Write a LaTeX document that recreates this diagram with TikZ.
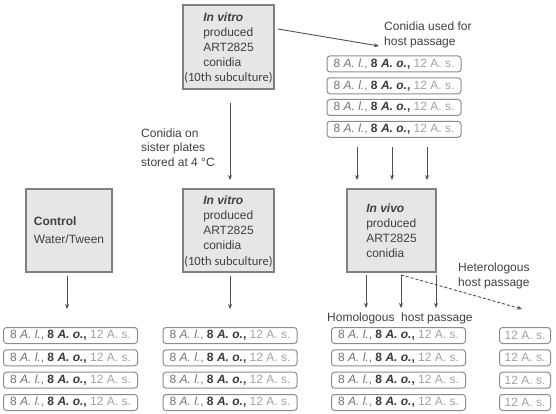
\documentclass[tikz,border=0pt]{standalone}
\usepackage{fontspec}
\setmainfont{Liberation Sans}
\newfontfamily\subfont{Carlito}
\usetikzlibrary{arrows.meta}

\definecolor{boxfill}{HTML}{E6E6E6}
\definecolor{boxline}{HTML}{808080}
\definecolor{txtdark}{HTML}{404040}
\definecolor{arrowgray}{HTML}{505050}
\definecolor{rowline}{HTML}{8C8C8C}
\definecolor{rowmid}{HTML}{737373}
\definecolor{rowdark}{HTML}{3A3A3A}
\definecolor{rowlight}{HTML}{A3A3A3}

\newcommand{\mixtxt}{{\color{rowmid}8 \textit{A. l.},} {\color{rowdark}\textbf{8 \textit{A. o.},}} {\color{rowlight}12 A. s.}}
\newcommand{\astxt}{{\color{rowlight}12 A. s.}}
\newcommand{\subcult}{{\subfont\fontsize{12.6}{14}\selectfont (10th subculture)}}

\tikzset{
  mainbox/.style={draw=boxline, line width=1.8pt, fill=boxfill, text=txtdark,
    minimum width=91pt, minimum height=83pt, inner sep=0pt, align=center,
    font=\fontsize{12}{15}\selectfont},
  rowbox/.style={draw=rowline, line width=1pt, rounded corners=3pt, fill=white,
    minimum width=134pt, minimum height=16pt, inner sep=0pt,
    font=\fontsize{12}{14}\selectfont},
  shortbox/.style={rowbox, minimum width=51pt},
  arr/.style={draw=arrowgray, line width=0.9pt, -{Stealth[length=5pt,width=4pt]}},
  lbl/.style={text=txtdark, align=left, inner sep=0pt, font=\fontsize{12}{15}\selectfont}
}

\begin{document}
\begin{tikzpicture}[x=1pt,y=-1pt]
  \useasboundingbox[fill=white] (0,0) rectangle (556,414);

  \node[mainbox, minimum height=84pt] (topvitro) at (228.5,47)
    {\begin{tabular}{@{}l@{}}\textbf{\textit{In vitro}}\\produced\\ART2825\\conidia\end{tabular}\\[1pt]\subcult};
  \node[mainbox, minimum width=86pt, align=left] (control) at (69,230.5)
    {\textbf{Control}\\[3pt]Water/Tween};
  \node[mainbox] (midvitro) at (228.5,230.5)
    {\begin{tabular}{@{}l@{}}\textbf{\textit{In vitro}}\\produced\\ART2825\\conidia\end{tabular}\\[1pt]\subcult};
  \node[mainbox, minimum width=89pt, align=left] (vivo) at (391.5,230.5)
    {\textbf{\textit{In vivo}}\\produced\\ART2825\\conidia};

  \node[lbl, anchor=west] (usedlbl) at (384,34.5) {Conidia used for\\host passage};
  \coordinate (usedtip) at (379,46);
  \node[lbl, anchor=west, font=\fontsize{12}{14.5}\selectfont] (sisterlbl) at (141,147.5)
    {Conidia on\\sister plates\\stored at 4 °C};
  \node[lbl, anchor=west] (heterolbl) at (458,275.5) {Heterologous\\host passage};
  \node[lbl, anchor=west] (homolbl) at (327,318) {Homologous\ \ host passage};

  \node[rowbox] (pass1) at (394,64) {\mixtxt};
  \node[rowbox] (pass2) at (394,85.8) {\mixtxt};
  \node[rowbox] (pass3) at (394,107.5) {\mixtxt};
  \node[rowbox] (pass4) at (394,129.3) {\mixtxt};

  \node[rowbox] (ctrl1) at (70.5,335.5) {\mixtxt};
  \node[rowbox] (ctrl2) at (70.5,357.8) {\mixtxt};
  \node[rowbox] (ctrl3) at (70.5,380.2) {\mixtxt};
  \node[rowbox] (ctrl4) at (70.5,402.5) {\mixtxt};

  \node[rowbox] (vitro1) at (230,335.5) {\mixtxt};
  \node[rowbox] (vitro2) at (230,357.8) {\mixtxt};
  \node[rowbox] (vitro3) at (230,380.2) {\mixtxt};
  \node[rowbox] (vitro4) at (230,402.5) {\mixtxt};

  \node[rowbox] (homo1) at (398.5,335.5) {\mixtxt};
  \node[rowbox] (homo2) at (398.5,357.8) {\mixtxt};
  \node[rowbox] (homo3) at (398.5,380.2) {\mixtxt};
  \node[rowbox] (homo4) at (398.5,402.5) {\mixtxt};

  \node[shortbox] (hetero1) at (525,335.5) {\astxt};
  \node[shortbox] (hetero2) at (525,357.8) {\astxt};
  \node[shortbox] (hetero3) at (525,380.2) {\astxt};
  \node[shortbox] (hetero4) at (525,402.5) {\astxt};

  \draw[arr] ([xshift=3pt,yshift=18pt]topvitro.east) -- (usedtip);
  \draw[arr] ([xshift=1.5pt,yshift=-13pt]topvitro.south) -- ([xshift=1.5pt,yshift=8pt]midvitro.north);

  \draw[arr] ([xshift=-37pt,yshift=-9pt]pass4.south) -- ([xshift=-34.5pt,yshift=8pt]vivo.north);
  \draw[arr] ([xshift=-2pt,yshift=-9pt]pass4.south) -- ([xshift=0.5pt,yshift=8pt]vivo.north);
  \draw[arr] ([xshift=33pt,yshift=-9pt]pass4.south) -- ([xshift=35.5pt,yshift=8pt]vivo.north);

  \draw[arr] ([xshift=-2pt,yshift=-3pt]control.south) -- ([xshift=-3.5pt,yshift=18pt]ctrl1.north);
  \draw[arr] ([xshift=1.5pt,yshift=-3pt]midvitro.south) -- ([yshift=18pt]vitro1.north);

  \draw[arr] ([xshift=-25.5pt,yshift=-2pt]vivo.south) -- ([xshift=-32.5pt,yshift=19pt]homo1.north);
  \draw[arr] ([xshift=9.5pt,yshift=-2pt]vivo.south) -- ([xshift=2.5pt,yshift=19pt]homo1.north);
  \draw[arr] ([xshift=44.5pt,yshift=-2pt]vivo.south) -- ([xshift=37.5pt,yshift=19pt]homo1.north);
  \draw[arr, dash pattern=on 3pt off 2pt] ([xshift=9.5pt,yshift=-2pt]vivo.south) -- ([xshift=-3pt,yshift=18pt]hetero1.north);
\end{tikzpicture}
\end{document}
